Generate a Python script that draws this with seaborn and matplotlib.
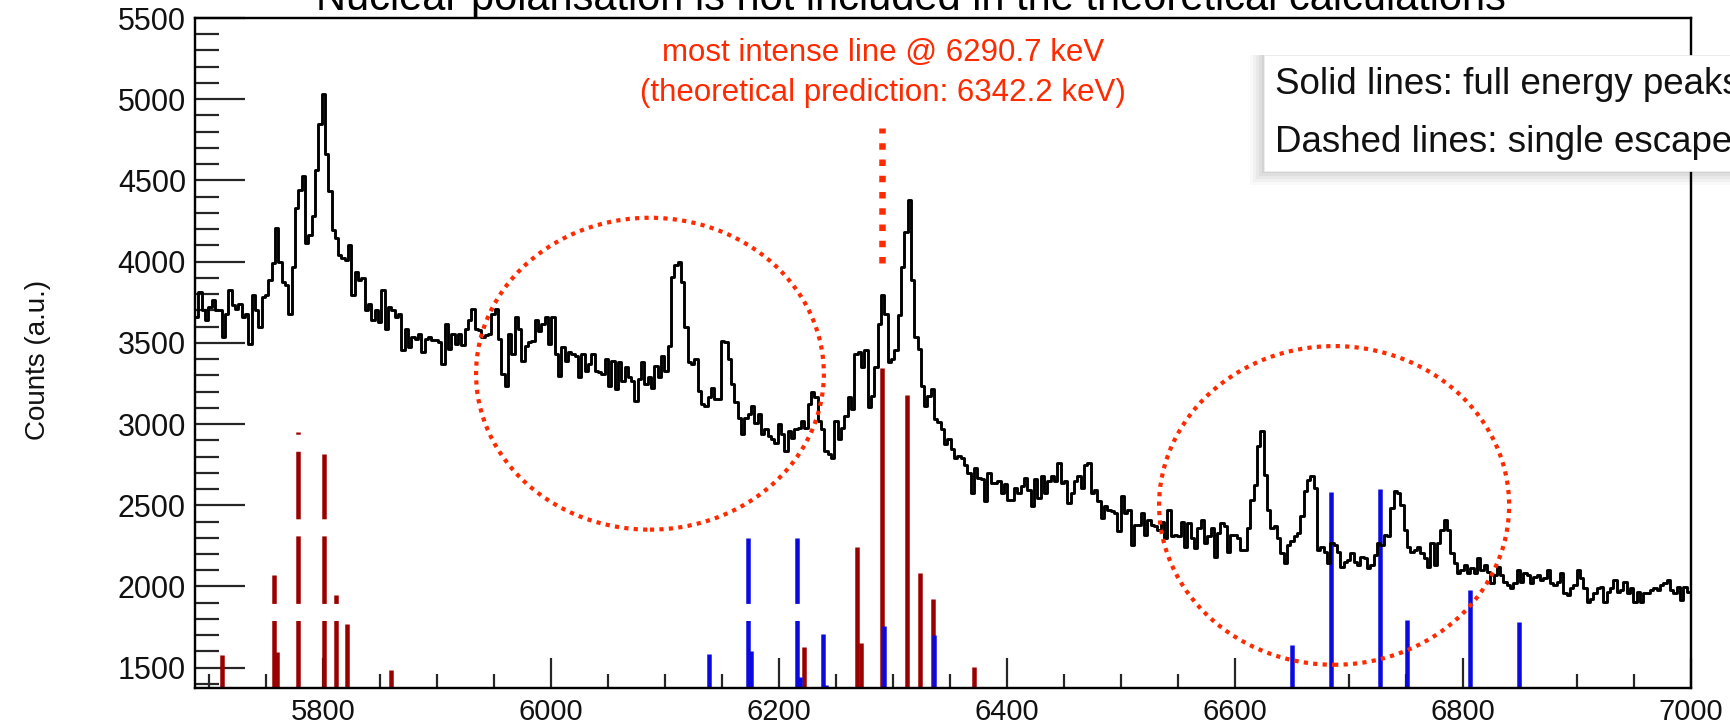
import numpy as np
import pandas as pd
import matplotlib
matplotlib.use("Agg")
import matplotlib.pyplot as plt
from matplotlib.patches import Ellipse, Rectangle
from matplotlib import font_manager
import seaborn as sns

sns.set_theme(style="white")
plt.rcParams['font.family'] = ['Liberation Sans', 'DejaVu Sans']

# ---------------- data ----------------
hist_start = 5688.0      # keV, left edge of first bin
hist_bin = 2.92          # keV
counts = [
    3659, 3814, 3700, 3638, 3720, 3762, 3700, 3700, 3535, 3680,
    3824, 3731, 3710, 3742, 3659, 3680, 3494, 3793, 3700, 3597,
    3783, 3793, 3886, 3989, 4206, 4000, 3876, 3855, 3680, 3969,
    4330, 4443, 4525, 4113, 4164, 4278, 4567, 4845, 5031, 4660,
    4433, 4195, 4144, 4041, 4020, 4010, 4103, 3793, 3938, 3886,
    3897, 3700, 3742, 3638, 3700, 3628, 3824, 3587, 3721, 3700,
    3659, 3680, 3453, 3587, 3474, 3536, 3525, 3556, 3443, 3525,
    3536, 3515, 3515, 3505, 3370, 3618, 3463, 3556, 3494, 3556,
    3484, 3587, 3638, 3711, 3587, 3577, 3536, 3546, 3556, 3680,
    3710, 3525, 3308, 3236, 3556, 3432, 3659, 3586, 3390, 3483,
    3504, 3514, 3638, 3576, 3617, 3659, 3494, 3659, 3432, 3298,
    3473, 3390, 3442, 3432, 3421, 3287, 3432, 3329, 3370, 3432,
    3329, 3318, 3308, 3401, 3236, 3390, 3215, 3380, 3267, 3349,
    3287, 3267, 3143, 3277, 3380, 3246, 3287, 3225, 3360, 3287,
    3421, 3329, 3483, 3906, 3978, 3999, 3875, 3597, 3380, 3370,
    3401, 3205, 3122, 3112, 3164, 3225, 3153, 3153, 3514, 3504,
    3401, 3246, 3133, 3040, 2937, 3040, 3060, 3112, 3009, 3060,
    2937, 2968, 2926, 2906, 2885, 2999, 2937, 2834, 2957, 2916,
    2968, 2978, 3020, 2978, 3123, 3195, 3164, 3020, 2968, 2834,
    2813, 2793, 3020, 2906, 2978, 3050, 3164, 3092, 3432, 3443,
    3350, 3453, 3102, 3174, 3350, 3618, 3793, 3680, 3381, 3401,
    3453, 3669, 3969, 4185, 4381, 3886, 3536, 3463, 3236, 3112,
    3174, 3216, 3030, 3010, 2968, 2875, 2906, 2844, 2793, 2803,
    2793, 2751, 2700, 2576, 2731, 2669, 2659, 2525, 2700, 2638,
    2638, 2648, 2576, 2628, 2535, 2535, 2607, 2576, 2617, 2669,
    2597, 2494, 2659, 2545, 2679, 2576, 2648, 2679, 2648, 2762,
    2638, 2648, 2514, 2576, 2648, 2679, 2607, 2751, 2762, 2576,
    2596, 2524, 2421, 2493, 2473, 2462, 2452, 2339, 2555, 2452,
    2473, 2256, 2380, 2380, 2452, 2318, 2411, 2380, 2370, 2349,
    2400, 2297, 2473, 2308, 2318, 2308, 2400, 2246, 2390, 2297,
    2235, 2359, 2411, 2266, 2308, 2359, 2184, 2328, 2390, 2370,
    2215, 2318, 2318, 2297, 2225, 2225, 2359, 2535, 2627, 2865,
    2958, 2689, 2473, 2359, 2370, 2297, 2205, 2143, 2256, 2277,
    2308, 2328, 2431, 2586, 2658, 2679, 2607, 2225, 2246, 2215,
    2143, 2266, 2256, 2215, 2122, 2153, 2163, 2205, 2153, 2132,
    2184, 2174, 2112, 2132, 2194, 2266, 2256, 2318, 2308, 2483,
    2586, 2576, 2503, 2349, 2246, 2215, 2225, 2246, 2204, 2173,
    2122, 2266, 2132, 2266, 2349, 2411, 2349, 2204, 2143, 2081,
    2101, 2132, 2081, 2112, 2081, 2173, 2101, 2132, 2091, 2019,
    2070, 2122, 2070, 2029, 2008, 1988, 2019, 2101, 2029, 2081,
    2070, 2019, 2060, 2070, 2039, 2050, 2101, 2019, 2008, 2029,
    2081, 1957, 1946, 1988, 2008, 2101, 2050, 1988, 1905, 1926,
    1957, 1988, 1998, 1905, 1967, 1988, 2039, 1967, 1977, 2029,
    1957, 1988, 1905, 1967, 1905, 1957, 1957, 1977, 1988, 1977,
    2008, 2019, 2039, 1977, 1957, 1998, 1915, 1998, 1967,
]

# theoretical lines (energy keV, height in counts)
# full-energy peaks (solid)
red_full_E = [6222, 6269, 6272.5, 6290.5, 6312, 6323.5, 6335, 6371]
red_full_H = [1627, 2245, 1655, 3343, 3180, 2086, 1925, 1503]
blue_full_E = [6650, 6684, 6727, 6751, 6806, 6849]
blue_full_H = [1642, 2579, 2598, 1793, 1977, 1780]
# single-escape peaks (dashed)
red_se_E = [5712, 5757, 5760, 5778, 5800.7, 5812, 5821.4, 5860]
red_se_H = [1580, 2070, 1595, 2954, 2817, 1946, 1771, 1484]
blue_se_E = [6138.4, 6173, 6176, 6216, 6219, 6238.5, 6241, 6292.6, 6336]
blue_se_H = [1585, 2297, 1600, 2297, 1445, 1709, 1395, 1758, 1704]

marker_E = 6290.7
marker_range = [3990, 4820]

circles = [  # (center E, center counts, width keV, height counts)
    (6087, 3310, 305, 1920),
    (6687, 2499, 307, 1962),
]

title = "Nuclear polarisation is not included in the theoretical calculations"
note1 = "most intense line @ 6290.7 keV"
note2 = "(theoretical prediction: 6342.2 keV)"
legend1 = "Solid lines: full energy peaks"
legend2 = "Dashed lines: single escape peaks"
ylabel = "Counts (a.u.)"
xlim = (5688, 7000)
ylim = (1375, 5500)

# ---------------- figure ----------------
W, H = 1731, 726
fig = plt.figure(figsize=(W / 100, H / 100), dpi=100)
ax = fig.add_axes([195 / W, 1 - 688 / H, (1691 - 195) / W, (688 - 18) / H])
ax.set_facecolor("white")

centers = hist_start + hist_bin * (np.arange(len(counts)) + 0.5)
df = pd.DataFrame({"E": centers, "c": counts})

RED_DARK = "#9a0000"
BLUE = "#0a0ae0"
RED = "#ff2a00"
px = 72 / 100  # points per pixel
BAR_LW = 4.5 * px
DASH = [(0, (15.0, 3.8))]

ax.vlines(red_full_E, ylim[0], red_full_H, color=RED_DARK, lw=BAR_LW, zorder=2)
ax.vlines(red_se_E, ylim[0], red_se_H, color=RED_DARK, lw=BAR_LW, zorder=2, linestyles=DASH)
ax.vlines(blue_full_E, ylim[0], blue_full_H, color=BLUE, lw=BAR_LW, zorder=2)
ax.vlines(blue_se_E, ylim[0], blue_se_H, color=BLUE, lw=BAR_LW, zorder=2, linestyles=DASH)

sns.histplot(data=df, x="E", weights="c", bins=len(counts),
             binrange=(hist_start, hist_start + hist_bin * len(counts)),
             element="step", fill=False, color="black", linewidth=2.9 * px, ax=ax, zorder=3)

# red dotted marker
ax.vlines([marker_E], marker_range[0], marker_range[1], color=RED, lw=6.5 * px,
          linestyles=[(0, (1, 1.5))], zorder=4)

for (cx, cy, w, h) in circles:
    e = Ellipse((cx, cy), w, h, fill=False, edgecolor=RED, lw=4.2 * px,
                linestyle=(0, (1, 1.25)), zorder=4)
    ax.add_patch(e)

ax.set_xlim(*xlim)
ax.set_ylim(*ylim)
ax.set_xlabel("")
ax.set_ylabel("")

ax.set_yticks(np.arange(1500, 5501, 500))
ax.set_yticks(np.arange(1400, 5501, 100), minor=True)
ax.set_xticks(np.arange(5800, 7001, 200))
ax.set_xticks(np.arange(5700, 7001, 50), minor=True)

for s in ax.spines.values():
    s.set_linewidth(2.4 * px)
    s.set_color("black")
    s.set_visible(True)

ax.tick_params(axis="y", which="major", direction="in", length=50 * px, width=2.2 * px,
               labelsize=22, pad=9 * px, left=True, right=False, labelcolor="#111111")
ax.tick_params(axis="y", which="minor", direction="in", length=24 * px, width=2.2 * px,
               left=True, right=False)
ax.tick_params(axis="x", which="major", direction="in", length=30 * px, width=2.2 * px,
               labelsize=21, pad=10 * px, bottom=True, top=False, labelcolor="#111111")
ax.tick_params(axis="x", which="minor", direction="in", length=14 * px, width=2.2 * px,
               bottom=True, top=False)

installed = {f.name for f in font_manager.fontManager.ttflist}
NARROW = (['Liberation Sans Narrow'] if 'Liberation Sans Narrow' in installed else []) + \
         ['Liberation Sans', 'DejaVu Sans']
for lab in ax.get_xticklabels():
    lab.set_family(NARROW)
    lab.set_fontsize(22 if NARROW[0] == 'Liberation Sans Narrow' else 21)

fig.text(38 / W, 1 - 360 / H, ylabel, rotation=90, ha="center", va="center",
         fontsize=20, color="#111111")

# title (cut by the top of the image, as in the original)
fig.text(911 / W, 1 - 10 / H, title, ha="center", va="baseline", fontsize=30, color="black")

# red annotation
fig.text(883 / W, 1 - 53 / H, note1, ha="center", va="center", fontsize=22.5, color=RED)
fig.text(883 / W, 1 - 93 / H, note2, ha="center", va="center", fontsize=22.5, color=RED)

# legend-like box with soft shadow, cut by the right edge of the image
for i, a in enumerate([0.045, 0.04, 0.035, 0.03, 0.025]):
    off = 2 + 3 * i
    fig.patches.append(Rectangle(((1264 - off) / W, 1 - (171 + off) / H), 700 / W, (116 + off) / H,
                                 transform=fig.transFigure, facecolor="black", alpha=a,
                                 edgecolor="none", zorder=9))
fig.patches.append(Rectangle((1264 / W, 1 - 171 / H), 700 / W, 116 / H, transform=fig.transFigure,
                             facecolor="white", edgecolor="#eeeeee", lw=0.5, zorder=10))
fig.text(1275 / W, 1 - 84 / H, legend1, ha="left", va="center", fontsize=26.5, zorder=11,
         color="#111111")
fig.text(1275 / W, 1 - 142 / H, legend2, ha="left", va="center", fontsize=26.5, zorder=11,
         color="#111111")

fig.savefig("out.png", dpi=100, facecolor="white")
